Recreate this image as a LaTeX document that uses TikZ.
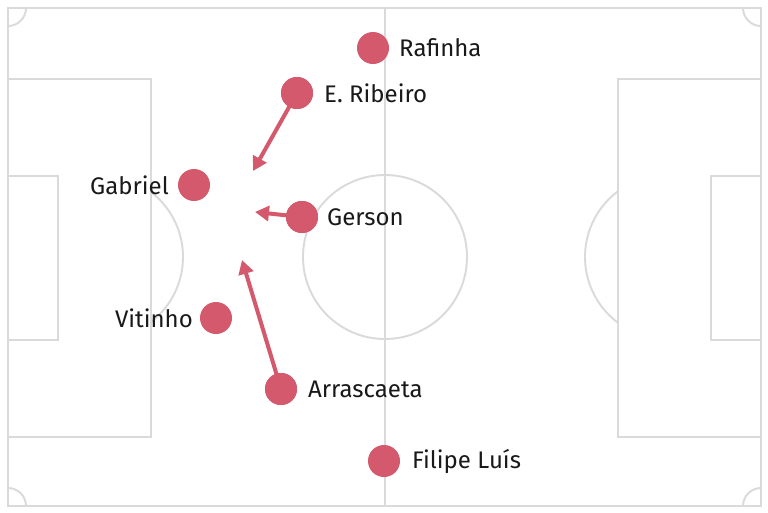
\documentclass[tikz,border=0pt]{standalone}
\usepackage{fontspec}
\setmainfont{Fira Sans}
\usetikzlibrary{arrows.meta}
\definecolor{pitchline}{HTML}{DADADA}
\definecolor{dotred}{HTML}{D4596D}
\begin{document}
\begin{tikzpicture}[x=1pt,y=-1pt,
  pline/.style={draw=pitchline,line width=1.9pt},
  player/.style={circle,fill=dotred,minimum size=32pt,inner sep=0pt},
  lbl/.style={font=\fontsize{24}{28}\selectfont,text=black!90,inner sep=0pt},
  run/.style={draw=dotred,line width=4pt,-{Triangle[length=14pt,width=15pt]}}]
\useasboundingbox (0,0) rectangle (768,512);
\fill[white] (0,0) rectangle (768,512);
% pitch
\draw[pline] (8,8) rectangle (761,506);
\draw[pline] (385,8) -- (385,506);
\draw[pline] (385,257) circle (82);
\draw[pline] (8,79) rectangle (151,437);
\draw[pline] (618,79) rectangle (761,437);
\draw[pline] (8,176) rectangle (58,340);
\draw[pline] (711,176) rectangle (761,340);
% penalty arcs
\begin{scope}
\clip (151,0) rectangle (400,512);
\draw[pline] (101,257) circle (82);
\end{scope}
\begin{scope}
\clip (370,0) rectangle (618,512);
\draw[pline] (667,257) circle (82);
\end{scope}
% corner arcs
\draw[pline] (8,26) arc[start angle=90,end angle=0,radius=18];
\draw[pline] (743,8) arc[start angle=180,end angle=90,radius=18];
\draw[pline] (26,506) arc[start angle=0,end angle=-90,radius=18];
\draw[pline] (761,488) arc[start angle=-90,end angle=-180,radius=18];
% arrow targets
\coordinate (tR) at (253,171);
\coordinate (tG) at (255,212);
\coordinate (tA) at (242,260);
% players
\node[player] (raf) at (373,48) {};
\node[player] (rib) at (297,93) {};
\node[player] (gab) at (194,185) {};
\node[player] (ger) at (302,217) {};
\node[player] (vit) at (216,318) {};
\node[player] (arr) at (281,389) {};
\node[player] (fil) at (384,461) {};
% runs
\draw[run] (rib.center) -- (tR);
\draw[run] (ger.center) -- (tG);
\draw[run] (arr.center) -- (tA);
\node[player] at (rib) {};
\node[player] at (ger) {};
\node[player] at (arr) {};
% labels
\node[lbl,anchor=west] (lraf) at (399,48) {Rafinha};
\node[lbl,anchor=west] (lrib) at (324,93) {E. Ribeiro};
\node[lbl,anchor=east] (lgab) at (169,185) {Gabriel};
\node[lbl,anchor=west] (lger) at (327,217) {Gerson};
\node[lbl,anchor=east] (lvit) at (193,318) {Vitinho};
\node[lbl,anchor=west] (larr) at (308,389) {Arrascaeta};
\node[lbl,anchor=west] (lfil) at (412,461) {Filipe Luís};
\end{tikzpicture}
\end{document}
